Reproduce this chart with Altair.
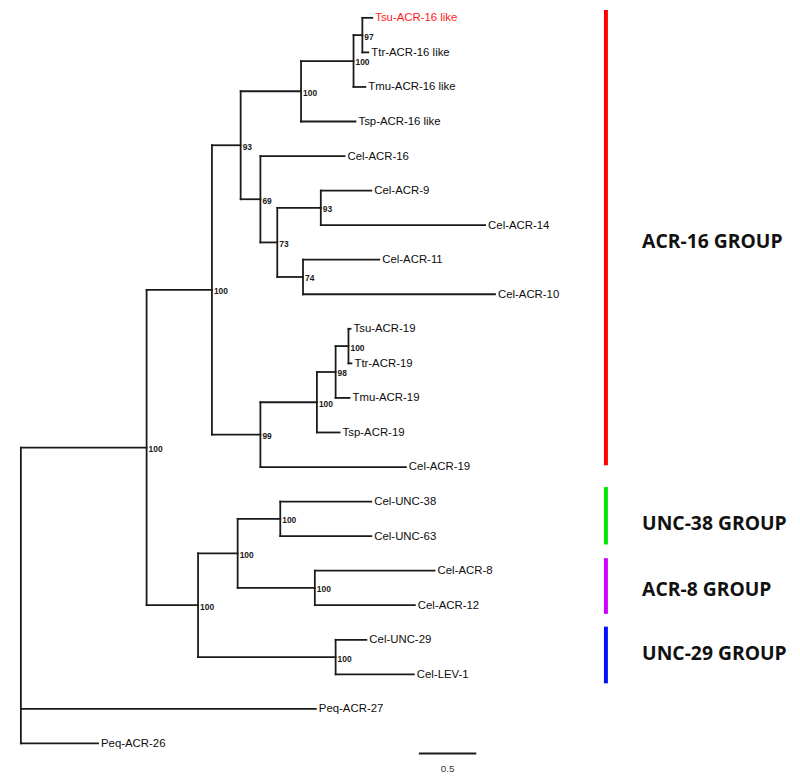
import altair as alt
import pandas as pd

# ---- tree data (branch depth in substitutions/site, leaves top to bottom) ----
leaf_names = ["Tsu-ACR-16 like", "Ttr-ACR-16 like", "Tmu-ACR-16 like", "Tsp-ACR-16 like",
              "Cel-ACR-16", "Cel-ACR-9", "Cel-ACR-14", "Cel-ACR-11", "Cel-ACR-10",
              "Tsu-ACR-19", "Ttr-ACR-19", "Tmu-ACR-19", "Tsp-ACR-19", "Cel-ACR-19",
              "Cel-UNC-38", "Cel-UNC-63", "Cel-ACR-8", "Cel-ACR-12", "Cel-UNC-29", "Cel-LEV-1",
              "Peq-ACR-27", "Peq-ACR-26"]
leaf_depth = [3.060, 3.026, 3.000, 2.914,
              2.819, 3.052, 4.043, 3.121, 4.129,
              2.871, 2.879, 2.862, 2.776, 3.353,
              3.052, 3.052, 3.603, 3.431, 3.009, 3.422,
              2.569, 0.672]

node_ids = ["F", "E", "D", "I", "J", "H", "G", "C", "N", "M", "L", "K", "B",
            "Q", "R", "P", "S", "O", "A", "root"]
node_depth = [2.974, 2.897, 2.440, 2.612, 2.457, 2.233, 2.086, 1.914, 2.853, 2.741, 2.578, 2.086, 1.664,
              2.259, 2.560, 1.888, 2.741, 1.543, 1.095, 0.0]
node_support = ["97", "100", "100", "93", "74", "73", "69", "93", "100", "98", "100", "99", "100",
                "100", "100", "100", "100", "100", "100", ""]
node_children = [
    ["Tsu-ACR-16 like", "Ttr-ACR-16 like"],
    ["F", "Tmu-ACR-16 like"],
    ["E", "Tsp-ACR-16 like"],
    ["Cel-ACR-9", "Cel-ACR-14"],
    ["Cel-ACR-11", "Cel-ACR-10"],
    ["I", "J"],
    ["Cel-ACR-16", "H"],
    ["D", "G"],
    ["Tsu-ACR-19", "Ttr-ACR-19"],
    ["N", "Tmu-ACR-19"],
    ["M", "Tsp-ACR-19"],
    ["L", "Cel-ACR-19"],
    ["C", "K"],
    ["Cel-UNC-38", "Cel-UNC-63"],
    ["Cel-ACR-8", "Cel-ACR-12"],
    ["Q", "R"],
    ["Cel-UNC-29", "Cel-LEV-1"],
    ["P", "S"],
    ["B", "O"],
    ["A", "Peq-ACR-27", "Peq-ACR-26"],
]
highlight_leaf = "Tsu-ACR-16 like"

# ---- groups ----
group_names = ["ACR-16 GROUP", "UNC-38 GROUP", "ACR-8 GROUP", "UNC-29 GROUP"]
group_colors = ["#ff0000", "#00e600", "#cc00ff", "#0010ff"]
group_top = [-0.23, 13.58, 15.64, 17.62]
group_bottom = [12.95, 15.24, 17.25, 19.26]
group_label_y = [6.48, 14.64, 16.56, 18.40]
group_x = 5.095
group_label_x = 5.41

# ---- scale bar ----
scale_len = 0.5
scale_x0 = 3.466
scale_y = 21.29
scale_label_y = 21.75

# ---- build positions ----
ypos = {n: i for i, n in enumerate(leaf_names)}
xpos = dict(zip(leaf_names, leaf_depth))
parent = {}
for nid, d, ch in zip(node_ids, node_depth, node_children):
    xpos[nid] = d
    ys = [ypos[c] for c in ch]
    ypos[nid] = (min(ys) + max(ys)) / 2
    for c in ch:
        parent[c] = nid

segs = []
for nid, ch in zip(node_ids, node_children):
    ys = [ypos[c] for c in ch]
    segs.append(dict(x=xpos[nid], x2=xpos[nid], y=min(ys), y2=max(ys)))
for n, p in parent.items():
    segs.append(dict(x=xpos[p], x2=xpos[n], y=ypos[n], y2=ypos[n]))
seg_df = pd.DataFrame(segs)

leaf_df = pd.DataFrame({"name": leaf_names, "x": leaf_depth, "y": list(range(len(leaf_names)))})
node_df = pd.DataFrame({"label": node_support, "x": [xpos[n] for n in node_ids],
                        "y": [ypos[n] for n in node_ids]})
node_df = node_df[node_df.label != ""]
group_df = pd.DataFrame({"name": group_names, "color": group_colors, "top": group_top,
                         "bottom": group_bottom, "ly": group_label_y,
                         "x": [group_x] * 4, "lx": [group_label_x] * 4})
scale_df = pd.DataFrame({"x": [scale_x0], "x2": [scale_x0 + scale_len], "y": [scale_y],
                         "xm": [scale_x0 + scale_len / 2], "ly": [scale_label_y],
                         "label": [str(scale_len)]})

X = alt.Scale(domain=[(8 - 21) / 116, (800 - 21) / 116])
Y = alt.Scale(domain=[(8 - 14) / 34.905, (780 - 14) / 34.905], reverse=True)

FONT = "Liberation Sans Narrow, Arial Narrow, Liberation Sans, Arial, sans-serif"

branches = alt.Chart(seg_df).mark_rule(color="#1a1a1a", strokeWidth=1.8, strokeCap="square").encode(
    x=alt.X("x:Q", scale=X, axis=None), x2="x2:Q",
    y=alt.Y("y:Q", scale=Y, axis=None), y2="y2:Q")

leaves = alt.Chart(leaf_df).mark_text(align="left", baseline="middle", dx=3, dy=0.5,
                                      font=FONT, fontSize=11.5).encode(
    x=alt.X("x:Q", scale=X), y=alt.Y("y:Q", scale=Y), text="name:N",
    color=alt.condition(alt.datum.name == highlight_leaf, alt.value("#ff1a1a"), alt.value("#0d0d0d")))

supports = alt.Chart(node_df).mark_text(align="left", baseline="middle", dx=2, dy=1.5,
                                        font=FONT, fontSize=8.5, fontWeight="bold",
                                        color="#1a1a1a").encode(
    x=alt.X("x:Q", scale=X), y=alt.Y("y:Q", scale=Y), text="label:N")

gbars = alt.Chart(group_df).mark_rule(strokeWidth=4).encode(
    x=alt.X("x:Q", scale=X), y=alt.Y("top:Q", scale=Y), y2="bottom:Q",
    color=alt.Color("color:N", scale=None))

glabels = alt.Chart(group_df).mark_text(align="left", baseline="middle", font="Open Sans",
                                        fontWeight="bold", fontSize=19.5, color="#111111").encode(
    x=alt.X("lx:Q", scale=X), y=alt.Y("ly:Q", scale=Y), text="name:N")

sbar = alt.Chart(scale_df).mark_rule(color="#1a1a1a", strokeWidth=2).encode(
    x=alt.X("x:Q", scale=X), x2="x2:Q", y=alt.Y("y:Q", scale=Y))

slabel = alt.Chart(scale_df).mark_text(align="center", baseline="middle", font=FONT,
                                       fontSize=10, color="#333333").encode(
    x=alt.X("xm:Q", scale=X), y=alt.Y("ly:Q", scale=Y), text="label:N")

chart = alt.layer(branches, leaves, supports, gbars, glabels, sbar, slabel).properties(
    width=792, height=772, padding=0, autosize="none"
).configure_view(stroke=None)

chart.save("out.html", embed_options={"renderer": "svg", "actions": False})
